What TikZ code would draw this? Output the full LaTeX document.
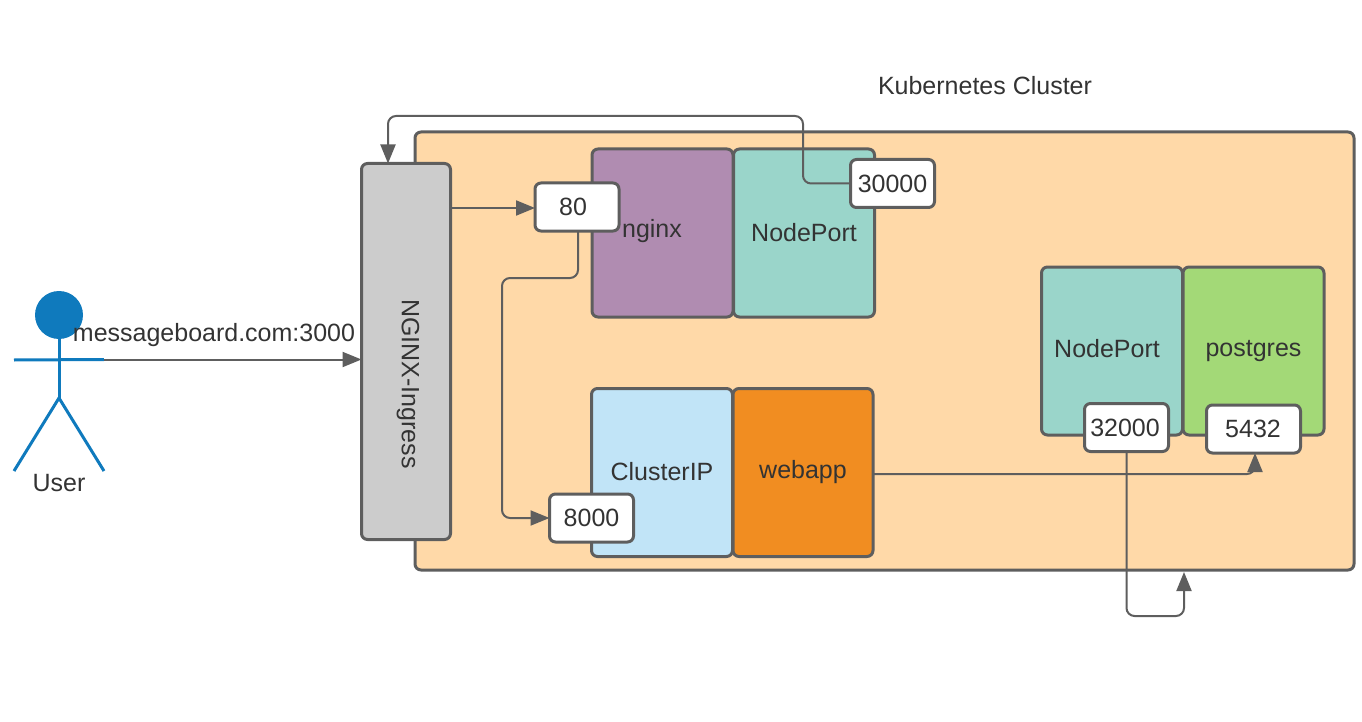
\documentclass[tikz,border=0pt]{standalone}
\usepackage{fontspec}
\setmainfont{Liberation Sans}
\usetikzlibrary{arrows.meta}
\definecolor{linegray}{HTML}{5E5E5E}
\definecolor{textgray}{HTML}{333333}
\definecolor{clusterfill}{HTML}{FFD9A8}
\definecolor{ingressfill}{HTML}{CCCCCC}
\definecolor{nginxfill}{HTML}{B08CB1}
\definecolor{nodeportfill}{HTML}{9AD5CA}
\definecolor{clusteripfill}{HTML}{C1E4F7}
\definecolor{webappfill}{HTML}{F18D21}
\definecolor{postgresfill}{HTML}{A3D977}
\definecolor{userblue}{HTML}{0F7ABD}
\tikzset{
    boxtext/.style={font=\fontsize{25}{29}\selectfont,text=textgray,inner sep=0pt},
    servicebox/.style={boxtext,draw=linegray,line width=3pt,rounded corners=6pt,minimum width=141pt,minimum height=168pt,outer sep=0pt},
    portbox/.style={servicebox,fill=white,minimum width=84pt,minimum height=48pt},
    link/.style={draw=linegray,line width=2pt,rounded corners=8pt},
    linkhead/.style={-{Triangle[length=19pt,width=15pt]}},
    userline/.style={draw=userblue,line width=3pt}
}
\begin{document}
\begin{tikzpicture}[x=1pt,y=-1pt]
    \useasboundingbox (0,0) rectangle (1362,722);
    \node [boxtext] (clustertitle) at(985,86) {Kubernetes Cluster};
    \node [servicebox,fill=clusterfill,minimum width=939pt,minimum height=438pt] (cluster) at(884.5,351) {};
    \node [servicebox,fill=ingressfill,minimum width=89pt,minimum height=376pt] (ingress) at(406,351.5) {};
    \node [boxtext,rotate=-90] (ingresstitle) at(408,384) {NGINX-Ingress};

    \node [servicebox,fill=nginxfill] (nginx) at(662.5,233) {};
    \node [boxtext] (nginxtitle) at(652,231) {nginx};
    \node [servicebox,fill=nodeportfill] (webport) at(804,233) {\raisebox{-1pt}{NodePort}};
    \node [servicebox,fill=clusteripfill] (clusterip) at(662,472.5) {\raisebox{3pt}{ClusterIP}};
    \node [servicebox,fill=webappfill,minimum width=140pt] (webapp) at(803,472.5) {\raisebox{2pt}{webapp}};
    \node [servicebox,fill=nodeportfill] (dbport) at(1112,351) {};
    \node [boxtext] (dbporttitle) at(1107,349) {NodePort};
    \node [servicebox,fill=postgresfill] (postgres) at(1253.5,351) {\raisebox{-2pt}{postgres}};

    \node [portbox] (port80) at(577,207) {\hspace*{-8pt}80};
    \node [portbox] (port30000) at(892.5,183.5) {30000};
    \node [portbox] (port8000) at(591.5,518) {8000};
    \node [portbox] (port32000) at(1126.5,427.5) {\hspace*{-3pt}32000};
    \node [portbox,minimum width=94pt] (port5432) at(1253.5,429) {\hspace*{-1pt}5432};

    \node [circle,fill=userblue,minimum size=48pt,inner sep=0pt] (userhead) at(59,315) {};
    \coordinate (userhip) at (59,398);
    \coordinate (userhand) at (104,359.5);
    \draw [userline] (userhead) -- (userhip);
    \draw [userline] (14,360) -- (userhand);
    \draw [userline] (14,471) -- (userhip) -- (104,471);
    \node [boxtext] (username) at(59,483) {User};
    \node [boxtext] (userurl) at(214,335) {messageboard.com:3000};

    \coordinate (clusterback) at (1184,572);
    \draw [link,linkhead] (userhand) -- (userhand -| ingress.west);
    \draw [link,linkhead] ([yshift=-1pt]port80.west -| ingress.east) -- ([yshift=-1pt]port80.west);
    \draw [link,linkhead] (port30000.west) -| (803,116) -| ([xshift=-18pt]ingress.north);
    \draw [link,linkhead] ([xshift=1pt]port80.south) |- (502,278) |- (port8000.west);
    \draw [link,linkhead] ([yshift=-1.5pt]webapp.east) -| ([xshift=1.5pt]port5432.south);
    \draw [link,linkhead] (port32000.south) |- (1160,616) -| (clusterback);
\end{tikzpicture}
\end{document}
